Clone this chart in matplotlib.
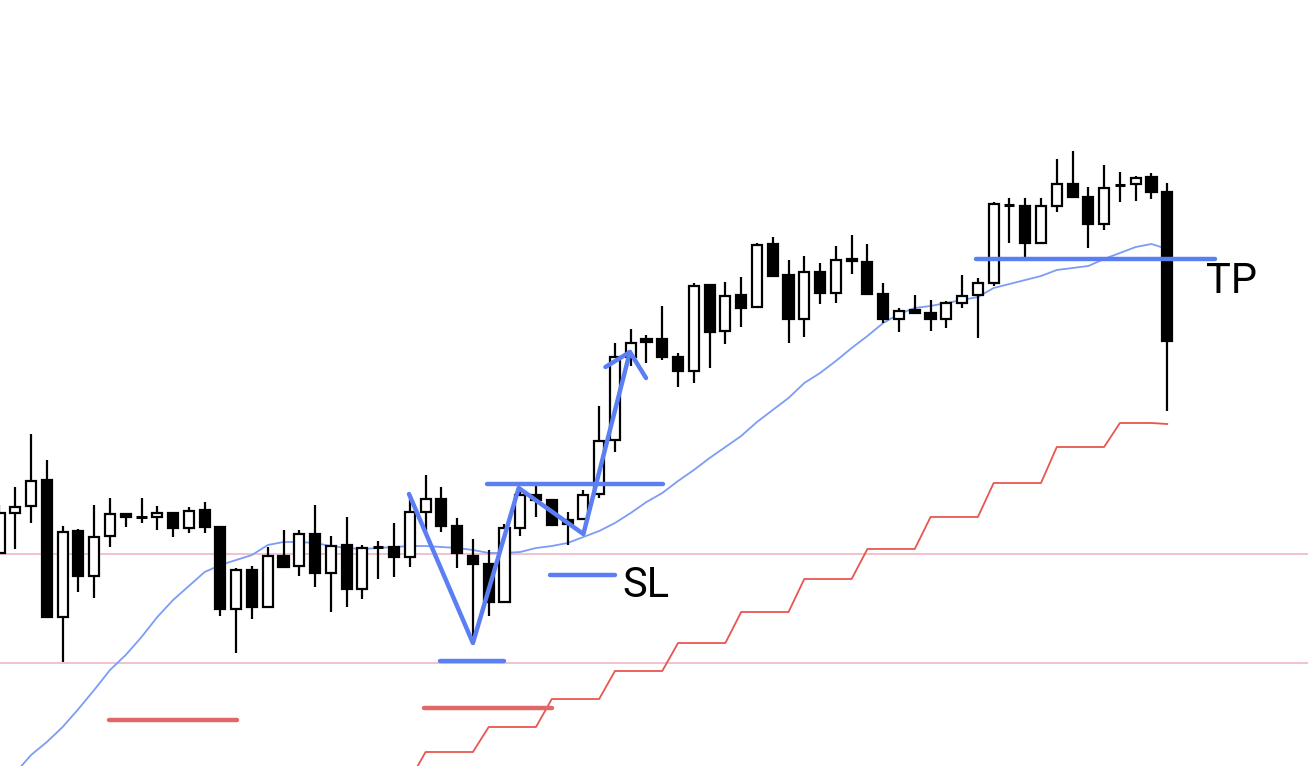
import matplotlib
matplotlib.use("Agg")
import matplotlib.pyplot as plt
from matplotlib.patches import Rectangle

# ---- candle data (price points) ----
opens = [213,253,260,286,149,235,190,230,252,249,249,253,238,256,239,157,196,159,210,200,
         232,193,221,177,219,219,209,254,267,240,210,202,164,238,271,266,246,247,272,326,
         409,427,427,409,395,481,435,471,459,522,491,447,494,473,507,504,472,447,456,453,
         447,463,471,483,561,560,523,560,582,569,542,581,582,589,574]
highs = [261,279,332,306,240,237,261,268,253,268,260,254,259,264,239,198,200,219,236,236,
         261,230,249,221,225,243,267,291,279,248,227,216,242,279,281,267,254,276,360,423,
         437,431,460,413,483,482,484,489,523,529,506,510,503,520,531,522,483,458,471,466,
         465,491,488,564,568,568,568,607,615,579,601,594,590,593,583]
lows  = [213,217,243,148,104,174,168,219,239,243,236,229,233,233,150,113,147,158,198,190,
         179,154,159,167,187,189,199,234,234,198,121,150,164,230,249,241,221,247,268,314,
         400,403,406,379,383,398,422,439,459,489,423,429,462,463,492,472,443,434,453,435,
         438,458,428,480,523,505,523,554,582,518,536,564,565,567,355]
closes = [253,259,285,149,234,190,229,252,249,249,253,238,255,239,157,196,159,210,199,232,
          193,220,177,218,219,209,254,267,240,213,202,164,238,271,266,241,242,271,325,409,
          423,424,409,395,480,434,470,458,521,490,447,494,473,506,505,472,447,455,453,447,
          463,470,483,562,561,523,560,582,569,542,578,581,588,574,425]

# short moving average (light blue), from index 1
ma_values = [-7,11,24,39,57,76,96,111,129,149,166,180,194,201,206,211,221,224,224,223,
             220,218,217,218,219,220,220,219,218,216,213,213,214,218,220,223,229,235,243,253,
             264,273,285,296,308,319,330,344,356,368,383,393,405,418,430,443,452,458,460,463,
             466,469,478,482,486,490,496,498,500,507,513,519,522,517]
ma_start = 1

# higher-timeframe average (red step line), from index 26
htf_values = [-14,14,14,14,14,39,39,39,39,67,67,67,67,95,95,95,95,123,123,123,123,
              154,154,154,154,187,187,187,187,217,217,217,217,249,249,249,249,
              283,283,283,283,319,319,319,319,343,343,343,342]
htf_start = 26

# horizontal reference levels
pink_levels = [212, 103]

# annotations
zigzag_x = [25.95, 30.0, 32.9, 37.0, 39.95]
zigzag_y = [272, 123, 278, 232, 414]
arrow_x = [38.4, 39.95, 40.97]
arrow_y = [399, 414, 388]
neck = (30.9, 42.05, 282)
sl_line = (34.9, 39.0, 191)
low_line = (27.9, 32.0, 105)
tp_line = (61.9, 77.0, 507)
red_marks = [(6.94, 15.05, 46), (26.9, 35.0, 58)]
sl_text = (39.5, 169, "SL")
tp_text = (76.46, 473, "TP")

BLUE = "#5b7ff3"
MA_COLOR = "#7c9cf6"
RED = "#e06868"
STEP_RED = "#e8564f"
PINK = "#f0bccb"

fig = plt.figure(figsize=(13.08, 7.66), dpi=100)
ax = fig.add_axes([0, 0, 1, 1])
ax.set_xlim(0.0317, 82.92)
ax.set_ylim(0, 766)
ax.axis("off")

for lv in pink_levels:
    ax.axhline(lv, color=PINK, lw=1.3, zorder=1)

# MA line
ax.plot(range(ma_start, ma_start + len(ma_values)), ma_values, color=MA_COLOR, lw=1.3, zorder=2)
# step line
ax.plot(range(htf_start, htf_start + len(htf_values)), htf_values, color=STEP_RED, lw=1.3, zorder=2)

# candles
bw = 0.64
for i, (o, h, l, c) in enumerate(zip(opens, highs, lows, closes)):
    top, bot = max(o, c), min(o, c)
    ax.plot([i, i], [l, bot], color="black", lw=1.6, zorder=3, solid_capstyle="butt")
    ax.plot([i, i], [top, h], color="black", lw=1.6, zorder=3, solid_capstyle="butt")
    if abs(c - o) < 1.5:
        ax.plot([i - bw / 2, i + bw / 2], [o, o], color="black", lw=2.2, zorder=4, solid_capstyle="butt")
    elif c > o:
        ax.add_patch(Rectangle((i - bw / 2, bot), bw, top - bot, facecolor="white",
                               edgecolor="black", lw=1.6, zorder=4))
    else:
        ax.add_patch(Rectangle((i - bw / 2, bot), bw, top - bot, facecolor="black",
                               edgecolor="black", lw=1.6, zorder=4))

# annotations
kw = dict(color=BLUE, lw=3.2, solid_capstyle="round", solid_joinstyle="round", zorder=6)
ax.plot(zigzag_x, zigzag_y, **kw)
ax.plot(arrow_x, arrow_y, **kw)
for (x0, x1, y) in [neck, sl_line, low_line, tp_line]:
    ax.plot([x0, x1], [y, y], **kw)
for (x0, x1, y) in red_marks:
    ax.plot([x0, x1], [y, y], color=RED, lw=3.2, solid_capstyle="round", zorder=6)

for (x, y, s) in [sl_text, tp_text]:
    ax.text(x, y, s, fontsize=30, family=["Roboto", "DejaVu Sans"], color="black",
            ha="left", va="baseline", zorder=7)

fig.savefig("out.png", dpi=100, facecolor="white")
